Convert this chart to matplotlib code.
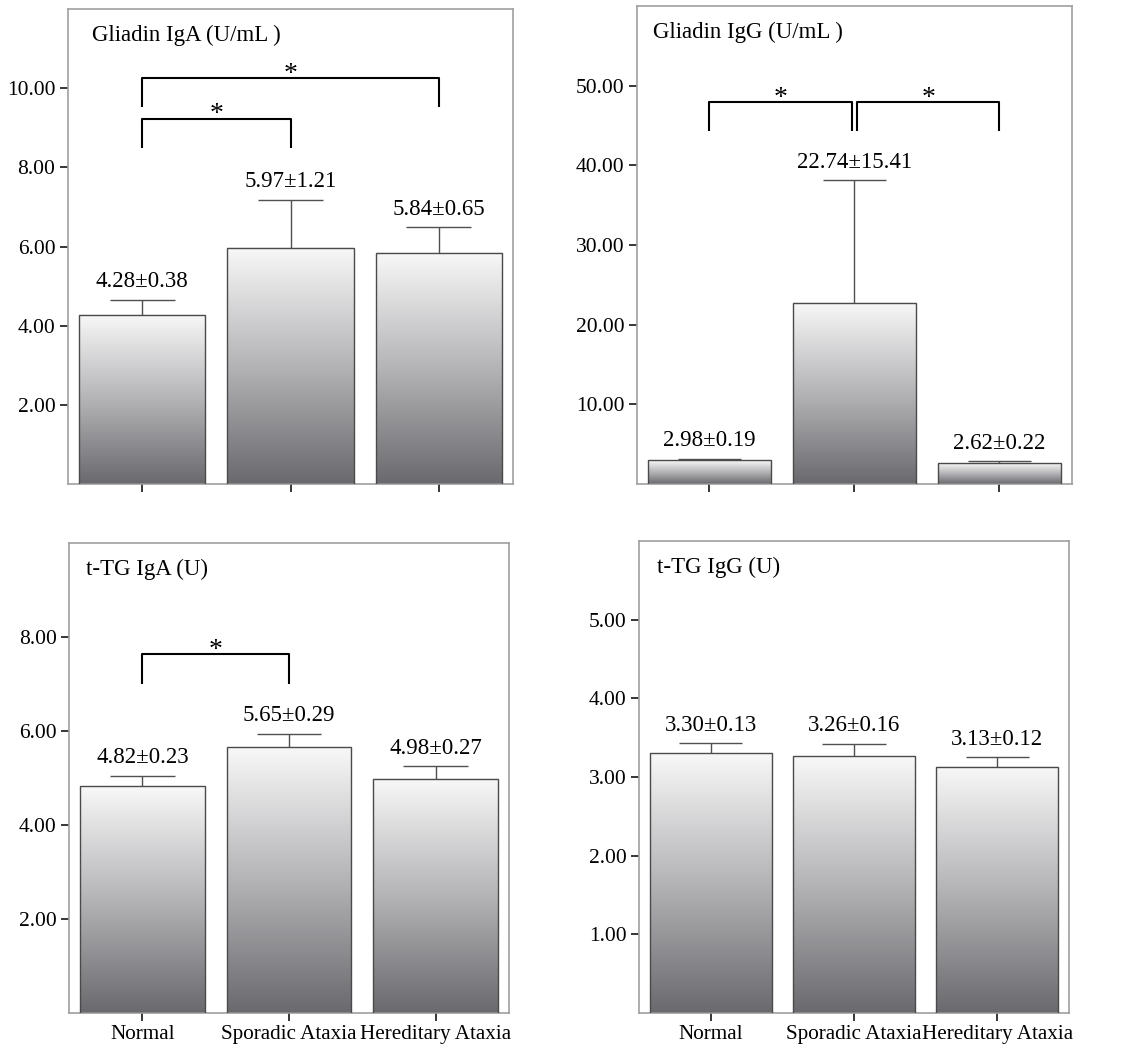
import numpy as np
import matplotlib.pyplot as plt
from matplotlib.colors import LinearSegmentedColormap

plt.rcParams['font.family'] = ['Liberation Serif', 'DejaVu Serif']

groups = ['Normal', 'Sporadic Ataxia', 'Hereditary Ataxia']

gliadin_iga_mean = [4.28, 5.97, 5.84]
gliadin_iga_sd = [0.38, 1.21, 0.65]
gliadin_igg_mean = [2.98, 22.74, 2.62]
gliadin_igg_sd = [0.19, 15.41, 0.22]
ttg_iga_mean = [4.82, 5.65, 4.98]
ttg_iga_sd = [0.23, 0.29, 0.27]
ttg_igg_mean = [3.30, 3.26, 3.13]
ttg_igg_sd = [0.13, 0.16, 0.12]

titles = ['Gliadin IgA (U/mL )', 'Gliadin IgG (U/mL )', 't-TG IgA (U)', 't-TG IgG (U)']
y_max = [12, 60, 10, 6]
y_ticks = [[2, 4, 6, 8, 10], [10, 20, 30, 40, 50], [2, 4, 6, 8], [1, 2, 3, 4, 5]]

# significance brackets: (x start, x end, bar height, leg bottom)
sig_gliadin_iga = [(0, 1, 9.23, 8.5), (0, 2, 10.26, 9.53)]
sig_gliadin_igg = [(0, 0.98, 47.9, 44.3), (1.02, 2, 47.9, 44.3)]
sig_ttg_iga = [(0, 1, 7.64, 7.0)]
sig_ttg_igg = []

panels = [
    (gliadin_iga_mean, gliadin_iga_sd, sig_gliadin_iga),
    (gliadin_igg_mean, gliadin_igg_sd, sig_gliadin_igg),
    (ttg_iga_mean, ttg_iga_sd, sig_ttg_iga),
    (ttg_igg_mean, ttg_igg_sd, sig_ttg_igg),
]

# axes rectangles in figure fraction
rects = [
    [0.0598, 0.5395, 0.3914, 0.4519],
    [0.5602, 0.5395, 0.3826, 0.4548],
    [0.0607, 0.0362, 0.3870, 0.4471],
    [0.5620, 0.0362, 0.3782, 0.4491],
]
title_x = [0.054, 0.037, 0.039, 0.042]

cmap = LinearSegmentedColormap.from_list('bar', ['#6a6a6e', '#b4b4b7', '#f8f8f8'])
grad = np.linspace(0, 1, 256).reshape(-1, 1)

fig = plt.figure(figsize=(11.37, 10.51), dpi=100)
x = np.arange(len(groups))

for k, (means, sds, sigs) in enumerate(panels):
    ax = fig.add_axes(rects[k])
    means = np.array(means)
    tops = means + np.array(sds)
    bars = ax.bar(x, means, width=0.85, facecolor='none', edgecolor='#4a4a4a',
                  linewidth=1.0, zorder=3)
    for b in bars:
        x0 = b.get_x()
        ax.imshow(grad, extent=(x0, x0 + b.get_width(), 0, b.get_height()),
                  origin='lower', cmap=cmap, aspect='auto', zorder=2)
    # upper error bars only
    ax.vlines(x, means, tops, color='#505050', lw=1.0, zorder=2.5)
    ax.hlines(tops, x - 0.22, x + 0.22, color='#505050', lw=1.0, zorder=2.5)
    for i in range(3):
        ax.annotate('%.2f\u00b1%.2f' % (means[i], sds[i]), xy=(x[i], tops[i]),
                    xytext=(0, 9), textcoords='offset points', ha='center',
                    va='baseline', fontsize=16.5)
    for (a, b, yl, yb) in sigs:
        ax.plot([a, a, b, b], [yb, yl, yl, yb], color='black', lw=1.5,
                solid_capstyle='butt', zorder=4)
        ax.annotate('*', xy=((a + b) / 2, yl), xytext=(0, -2), textcoords='offset points',
                    ha='center', va='baseline', fontsize=20)

    ax.text(title_x[k], 0.933, titles[k], transform=ax.transAxes,
            ha='left', va='baseline', fontsize=16.5)

    ax.set_xlim(-0.5, 2.5)
    ax.set_ylim(0, y_max[k])
    ax.set_yticks(y_ticks[k])
    ax.set_yticklabels(['%.2f' % t for t in y_ticks[k]], fontsize=15.5)
    ax.set_xticks(x)
    if k >= 2:
        ax.set_xticklabels(groups, fontsize=15.2)
    else:
        ax.set_xticklabels([])
    ax.tick_params(direction='out', length=6, width=1.1, color='black', pad=3)
    for s in ax.spines.values():
        s.set_color('#a0a0a0')
        s.set_linewidth(1.2)

fig.savefig('out.png', dpi=100)
